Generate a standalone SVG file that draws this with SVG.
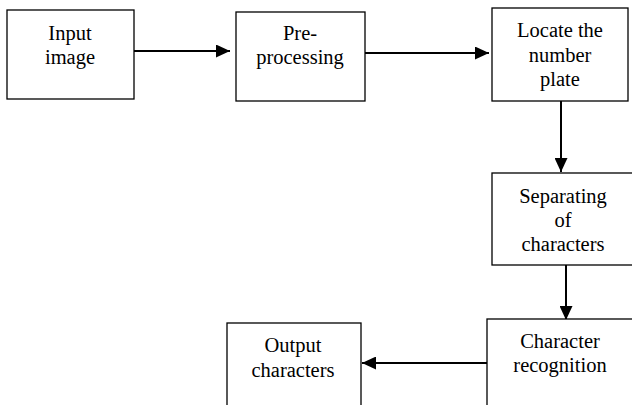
<svg xmlns="http://www.w3.org/2000/svg" width="632" height="405" viewBox="0 0 632 405">
<style>
.box{fill:#fff;stroke:#000;stroke-width:1.3}
.lbl{font-family:"Liberation Serif","Times New Roman",serif;font-size:20.5px;fill:#000;text-anchor:middle}
.conn{stroke:#000;stroke-width:2;fill:none}
</style>
<defs>
<marker id="ah" markerUnits="userSpaceOnUse" markerWidth="15" markerHeight="13" refX="14" refY="6.5" orient="auto">
<path d="M0,0 L14,6.5 L0,13 z" fill="#000"/>
</marker>
</defs>
<rect width="632" height="405" fill="#fff"/>
<g id="connectors">
<line class="conn" x1="134" y1="51" x2="230" y2="51" marker-end="url(#ah)"/>
<line class="conn" x1="365" y1="53" x2="489" y2="53" marker-end="url(#ah)"/>
<line class="conn" x1="561" y1="101" x2="561" y2="172" marker-end="url(#ah)"/>
<line class="conn" x1="566" y1="265" x2="566" y2="320" marker-end="url(#ah)"/>
<line class="conn" x1="487" y1="363" x2="362" y2="363" marker-end="url(#ah)"/>
</g>
<g id="input">
<rect class="box" x="7" y="10" width="127" height="89"/>
<text class="lbl" x="70" y="40">Input</text>
<text class="lbl" x="70" y="64">image</text>
</g>
<g id="preprocessing">
<rect class="box" x="236" y="12" width="129" height="89"/>
<text class="lbl" x="300" y="40">Pre-</text>
<text class="lbl" x="300" y="64">processing</text>
</g>
<g id="locate">
<rect class="box" x="492" y="8" width="136" height="93"/>
<text class="lbl" x="560" y="37">Locate the</text>
<text class="lbl" x="560" y="62">number</text>
<text class="lbl" x="560" y="86">plate</text>
</g>
<g id="separating">
<rect class="box" x="492" y="173" width="141" height="92"/>
<text class="lbl" x="563" y="203">Separating</text>
<text class="lbl" x="563" y="227">of</text>
<text class="lbl" x="563" y="251">characters</text>
</g>
<g id="recognition">
<rect class="box" x="487" y="319" width="147" height="100"/>
<text class="lbl" x="560" y="348">Character</text>
<text class="lbl" x="560" y="372">recognition</text>
</g>
<g id="output">
<rect class="box" x="227" y="323" width="134" height="100"/>
<text class="lbl" x="293" y="352">Output</text>
<text class="lbl" x="293" y="377">characters</text>
</g>
</svg>
